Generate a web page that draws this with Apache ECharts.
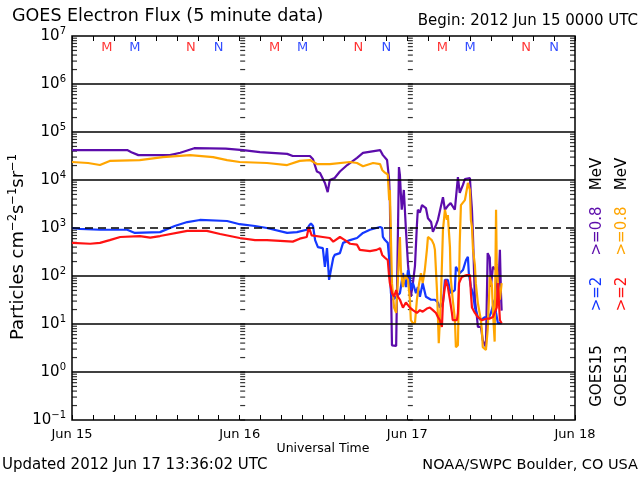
<!DOCTYPE html>
<html><head><meta charset="utf-8">
<script src="https://cdn.jsdelivr.net/npm/echarts@6/dist/echarts.min.js"></script>
<style>html,body{margin:0;padding:0;background:#fff}#c{width:640px;height:480px}</style>
</head><body><div id="c"></div>
<script>
// ---- data (time in hours since 2012 Jun 15 00:00 UTC, flux in particles cm^-2 s^-1 sr^-1) ----
const dayLabels = ['Jun 15', 'Jun 16', 'Jun 17', 'Jun 18'];
const decadeLines = [1e6, 1e5, 1e4, 1e3, 1e2, 1e1, 1e0];
const thresholdLevel = 1e3;
const goes13MarkHours = { M: 5, N: 17 };
const goes15MarkHours = { M: 9, N: 21 };

const goes15_08 = [[0,42000],[7.9,42000],[8.5,38000],[9.5,33000],[14,33000],[15.5,37000],[17.5,46000],[22,45000],[24.5,42000],[26.9,38000],[30.8,35000],[31.6,31600],[34.06,31600],[34.5,27000],[35.06,15000],[35.5,14000],[36.2,8700],[36.6,5600],[36.9,10000],[37.6,11000],[38.35,15000],[39.4,20500],[40.8,29000],[41.65,36600],[44.1,42000],[44.5,33000],[45.1,26000],[45.4,10000],[45.5,3800],[45.65,83],[45.8,3.6],[46.4,3.5],[46.65,3.8],[46.8,18600],[46.94,12600],[47.08,4900],[47.2,2400],[47.5,6200],[47.8,910],[48.1,170],[48.5,37],[48.8,71],[49.09,160],[49.37,1150],[49.5,2400],[49.8,2100],[50.1,3000],[50.66,2600],[50.95,1600],[51.4,1330],[51.66,830],[52.1,1150],[52.38,1480],[52.66,1600],[53.1,4400],[53.38,2400],[53.8,2900],[54.2,3300],[54.8,2400],[55.24,11500],[55.5,5400],[55.96,7900],[56.24,10500],[56.5,11500],[56.96,11000],[57.1,4900],[57.25,2400],[57.4,650],[57.67,32],[57.96,14],[58.1,8.7],[58.53,8.7],[58.8,4.6],[59.25,3.3],[59.4,3.6],[59.5,300],[59.8,240],[59.96,59],[60.25,155],[60.7,133],[60.97,32],[61.25,350],[61.4,44],[61.5,19]];

const goes13_08 = [[0,23700],[2.3,22600],[4.0,20500],[5.4,25000],[9.7,26000],[13,30000],[16.9,33000],[20.2,30000],[22.2,26000],[24,23700],[27.9,22600],[30.8,20500],[32.6,25000],[34.06,26000],[35.06,21500],[36.9,21500],[39.8,23700],[40.8,22600],[41.65,19400],[43.1,22600],[44.1,21500],[44.4,16200],[44.8,14200],[45.2,13000],[45.4,3800],[45.5,6200],[45.65,650],[45.8,71],[46.1,22],[46.4,17],[46.65,83],[46.94,650],[47.08,133],[47.37,59],[47.66,105],[47.94,115],[48.1,83],[48.37,32],[48.5,12],[48.8,10.4],[49.09,10.4],[49.37,32],[49.65,65],[49.95,115],[50.2,71],[50.5,133],[50.8,350],[50.95,650],[51.5,560],[51.8,450],[51.95,350],[52.24,51],[52.38,14],[52.5,4],[52.66,4.3],[52.8,32],[53.1,910],[53.38,2400],[53.66,1480],[53.8,1860],[54.1,400],[54.2,96],[54.5,32],[54.8,13],[54.95,3.3],[55.24,3.6],[55.5,490],[55.67,3000],[56.24,3800],[56.5,6200],[56.67,8700],[56.96,6200],[57.1,1480],[57.25,1050],[57.4,350],[57.67,170],[57.8,71],[58.1,27],[58.53,12],[58.67,7.5],[58.8,3.3],[59.25,2.9],[59.5,7.5],[59.7,37],[59.8,96],[60.1,65],[60.25,19],[60.5,4.3],[60.7,2400],[60.8,170],[60.97,71],[61.25,32],[61.5,71]];

const goes15_2 = [[0,1000],[1.1,960],[4,920],[7.9,920],[9,790],[12.6,820],[14.7,1100],[16.5,1330],[18.3,1470],[22.2,1400],[24,1200],[26.2,1100],[27.9,1000],[30.8,790],[32.2,820],[33.6,920],[33.9,1100],[34.2,1250],[34.5,1100],[34.8,560],[35.2,400],[35.9,380],[36.2,155],[36.5,380],[36.8,83],[37.06,133],[37.4,240],[37.6,275],[38.35,300],[38.8,490],[39.8,560],[40.8,620],[41.65,790],[42.65,920],[44.1,1050],[44.4,1000],[44.5,650],[44.8,560],[45.2,490],[45.5,155],[45.65,44],[45.94,32],[46.4,37],[46.94,44],[47.08,59],[47.37,115],[47.8,59],[48.1,133],[48.37,96],[48.5,51],[48.8,71],[49.23,44],[49.5,59],[49.8,37],[50.2,71],[50.66,37],[51.4,32],[51.95,32],[52.38,28],[52.66,22],[53.1,28],[53.38,83],[53.8,83],[54.2,44],[54.8,51],[54.95,155],[55.5,115],[55.96,133],[56.4,215],[56.67,250],[56.8,115],[57.1,59],[57.4,44],[57.67,22],[58.1,14],[58.53,12],[59.1,14],[59.5,12],[59.96,17],[60.5,32],[60.7,17],[60.97,10.4],[61.5,10.4]];

const goes13_2 = [[0,490],[2.6,470],[4,490],[5.4,560],[6.9,650],[9.7,680],[11.2,630],[12.6,680],[16.5,870],[19.3,870],[21.2,750],[24,620],[26.2,560],[27.9,560],[29.8,540],[31.6,520],[32.6,600],[33.6,650],[33.9,1050],[34.3,700],[35.9,650],[36.9,620],[37.4,520],[38.35,650],[39.07,560],[39.8,470],[40.8,450],[41.2,350],[42.65,330],[43.6,350],[44.1,380],[44.4,275],[44.8,240],[45.2,215],[45.4,96],[45.5,71],[45.8,44],[46.1,37],[46.4,51],[46.65,37],[46.94,32],[47.37,22],[47.8,28],[48.37,22],[48.8,19.5],[49.37,17],[49.8,19.5],[50.2,18],[50.8,21],[51.23,22],[51.66,19.5],[52.1,17],[52.38,14],[52.66,12],[52.95,8.7],[53.1,28],[53.5,83],[53.8,59],[54.1,32],[54.38,17],[54.5,12],[55.1,12],[55.24,17],[55.4,71],[55.8,96],[56.5,105],[56.96,105],[57.1,44],[57.25,22],[57.67,17],[58.1,14],[58.67,12],[59.4,13],[59.8,13],[60.25,14],[60.8,22],[60.97,71],[61.25,12],[61.5,10.4]];

// ---- style ----
const FONT = 'DejaVu Sans';
const C_PURPLE = '#5c0cab', C_ORANGE = '#ffa500', C_BLUE = '#1438ff', C_RED = '#ff1212';
const X_MAX = 72;
const markerLevel = Math.pow(10, 6.75);

// minor log ticks (2..9 x 10^k) along the frame and day boundaries
const minorVals = [];
for (let k = -1; k <= 6; k++) for (let m = 2; m <= 9; m++) minorVals.push(m * Math.pow(10, k));
const dayVals = [];
for (let k = -1; k <= 6; k++) for (let m = 1; m <= 9; m++) dayVals.push(m * Math.pow(10, k));

function tickSeries(xv, vals, offset) {
  return {
    type: 'scatter', symbol: 'rect', symbolSize: [5, 1.2], symbolOffset: [offset, 0],
    itemStyle: { color: '#000' }, silent: true, z: 1, clip: false,
    data: vals.map(v => [xv, v])
  };
}

function markerSeries(hours, color) {
  const data = [];
  for (let d = 0; d < 3; d++) {
    Object.keys(hours).forEach(letter => data.push({ value: [d * 24 + hours[letter], markerLevel], name: letter }));
  }
  return {
    type: 'scatter', symbolSize: 0, silent: true, z: 5,
    label: { show: true, position: 'inside', formatter: p => p.name, color: color, fontFamily: FONT, fontSize: 13 },
    data: data
  };
}

function sup(e) { return e < 0 ? '\u2212' + (-e) : String(e); }

const lineCommon = { type: 'line', showSymbol: false, z: 3, sampling: undefined };

const chart = echarts.init(document.getElementById('c'), null, { renderer: 'canvas' });
chart.setOption({
  animation: false,
  backgroundColor: '#fff',
  textStyle: { fontFamily: FONT },
  grid: { left: 72, right: 65, top: 36, bottom: 60, show: true, borderColor: '#000', borderWidth: 1.5, backgroundColor: 'transparent' },
  xAxis: [{
    type: 'value', min: 0, max: X_MAX, interval: 3,
    axisLine: { show: false },
    axisTick: { show: true, inside: true, length: 5, lineStyle: { color: '#000', width: 1 } },
    splitLine: { show: false },
    axisLabel: { color: '#000', fontFamily: FONT, fontSize: 13, margin: 8,
      formatter: v => (v % 24 === 0 ? dayLabels[v / 24] : '') }
  }, {
    type: 'value', position: 'top', min: 0, max: X_MAX, interval: 3,
    axisLine: { show: false },
    axisTick: { show: true, inside: true, length: 5, lineStyle: { color: '#000', width: 1 } },
    splitLine: { show: false }, axisLabel: { show: false }
  }],
  yAxis: [{
    type: 'log', logBase: 10, min: 0.1, max: 1e7, interval: 1,
    axisLine: { show: false }, axisTick: { show: false }, splitLine: { show: false },
    axisLabel: {
      margin: 6, color: '#000',
      formatter: v => '{b|10}{s|' + sup(Math.round(Math.log10(v))) + '}',
      rich: { b: { fontFamily: FONT, fontSize: 15, color: '#000' },
              s: { fontFamily: FONT, fontSize: 10, color: '#000', padding: [0, 0, 9, 0] } }
    }
  }],
  series: [
    Object.assign(tickSeries(0, minorVals, 2.5), {
      markLine: {
        silent: true, symbol: 'none', label: { show: false }, animation: false,
        data: decadeLines.map(v => ({ yAxis: v, lineStyle: { color: '#000', width: 1.5, type: v === thresholdLevel ? [8, 5] : 'solid' } }))
      }
    }),
    tickSeries(X_MAX, minorVals, -2.5),
    tickSeries(24, dayVals, 3),
    tickSeries(48, dayVals, 3),
    Object.assign({}, lineCommon, { name: 'GOES15 >=0.8', data: goes15_08, lineStyle: { color: C_PURPLE, width: 2.2 } }),
    Object.assign({}, lineCommon, { name: 'GOES15 >=2', data: goes15_2, lineStyle: { color: C_BLUE, width: 2.2 } }),
    Object.assign({}, lineCommon, { name: 'GOES13 >=0.8', data: goes13_08, lineStyle: { color: C_ORANGE, width: 2.2 } }),
    Object.assign({}, lineCommon, { name: 'GOES13 >=2', data: goes13_2, lineStyle: { color: C_RED, width: 2.2 } }),
    markerSeries(goes13MarkHours, '#ff0000'),
    markerSeries(goes15MarkHours, '#0022ff')
  ],
  graphic: [
    { type: 'text', left: 12, top: 7, style: { text: 'GOES Electron Flux (5 minute data)', fontFamily: FONT, fontSize: 17.5, fill: '#000' } },
    { type: 'text', right: 2, top: 14, style: { text: 'Begin: 2012 Jun 15 0000 UTC', fontFamily: FONT, fontSize: 15, fill: '#000' } },
    { type: 'text', left: 2, top: 458, style: { text: 'Updated 2012 Jun 17 13:36:02 UTC', fontFamily: FONT, fontSize: 15, fill: '#000' } },
    { type: 'text', right: 2, top: 458, style: { text: 'NOAA/SWPC Boulder, CO USA', fontFamily: FONT, fontSize: 14.5, fill: '#000' } },
    { type: 'text', x: 323, y: 449, style: { text: 'Universal Time', fontFamily: FONT, fontSize: 12.5, fill: '#000', align: 'center', verticalAlign: 'middle' } },
    { type: 'text', x: 18, y: 247, rotation: Math.PI / 2,
      style: { text: 'Particles cm{s|\u22122}s{s|\u22121}sr{s|\u22121}', fontFamily: FONT, fontSize: 18, fill: '#000', align: 'center', verticalAlign: 'middle',
        rich: { s: { fontFamily: FONT, fontSize: 11.5, fill: '#000', padding: [0, 0, 10, 0] } } } },
    { type: 'text', x: 597, y: 376, rotation: Math.PI / 2, style: { text: 'GOES15', fontFamily: FONT, fontSize: 15, fill: '#000', align: 'center', verticalAlign: 'middle' } },
    { type: 'text', x: 622, y: 376, rotation: Math.PI / 2, style: { text: 'GOES13', fontFamily: FONT, fontSize: 15, fill: '#000', align: 'center', verticalAlign: 'middle' } },
    { type: 'text', x: 597, y: 294, rotation: Math.PI / 2, style: { text: '>=2', fontFamily: FONT, fontSize: 15, fill: C_BLUE, align: 'center', verticalAlign: 'middle' } },
    { type: 'text', x: 622, y: 294, rotation: Math.PI / 2, style: { text: '>=2', fontFamily: FONT, fontSize: 15, fill: C_RED, align: 'center', verticalAlign: 'middle' } },
    { type: 'text', x: 597, y: 231, rotation: Math.PI / 2, style: { text: '>=0.8', fontFamily: FONT, fontSize: 15, fill: C_PURPLE, align: 'center', verticalAlign: 'middle' } },
    { type: 'text', x: 622, y: 231, rotation: Math.PI / 2, style: { text: '>=0.8', fontFamily: FONT, fontSize: 15, fill: C_ORANGE, align: 'center', verticalAlign: 'middle' } },
    { type: 'text', x: 597, y: 174, rotation: Math.PI / 2, style: { text: 'MeV', fontFamily: FONT, fontSize: 15, fill: '#000', align: 'center', verticalAlign: 'middle' } },
    { type: 'text', x: 622, y: 174, rotation: Math.PI / 2, style: { text: 'MeV', fontFamily: FONT, fontSize: 15, fill: '#000', align: 'center', verticalAlign: 'middle' } }
  ]
});
</script>
</body></html>
